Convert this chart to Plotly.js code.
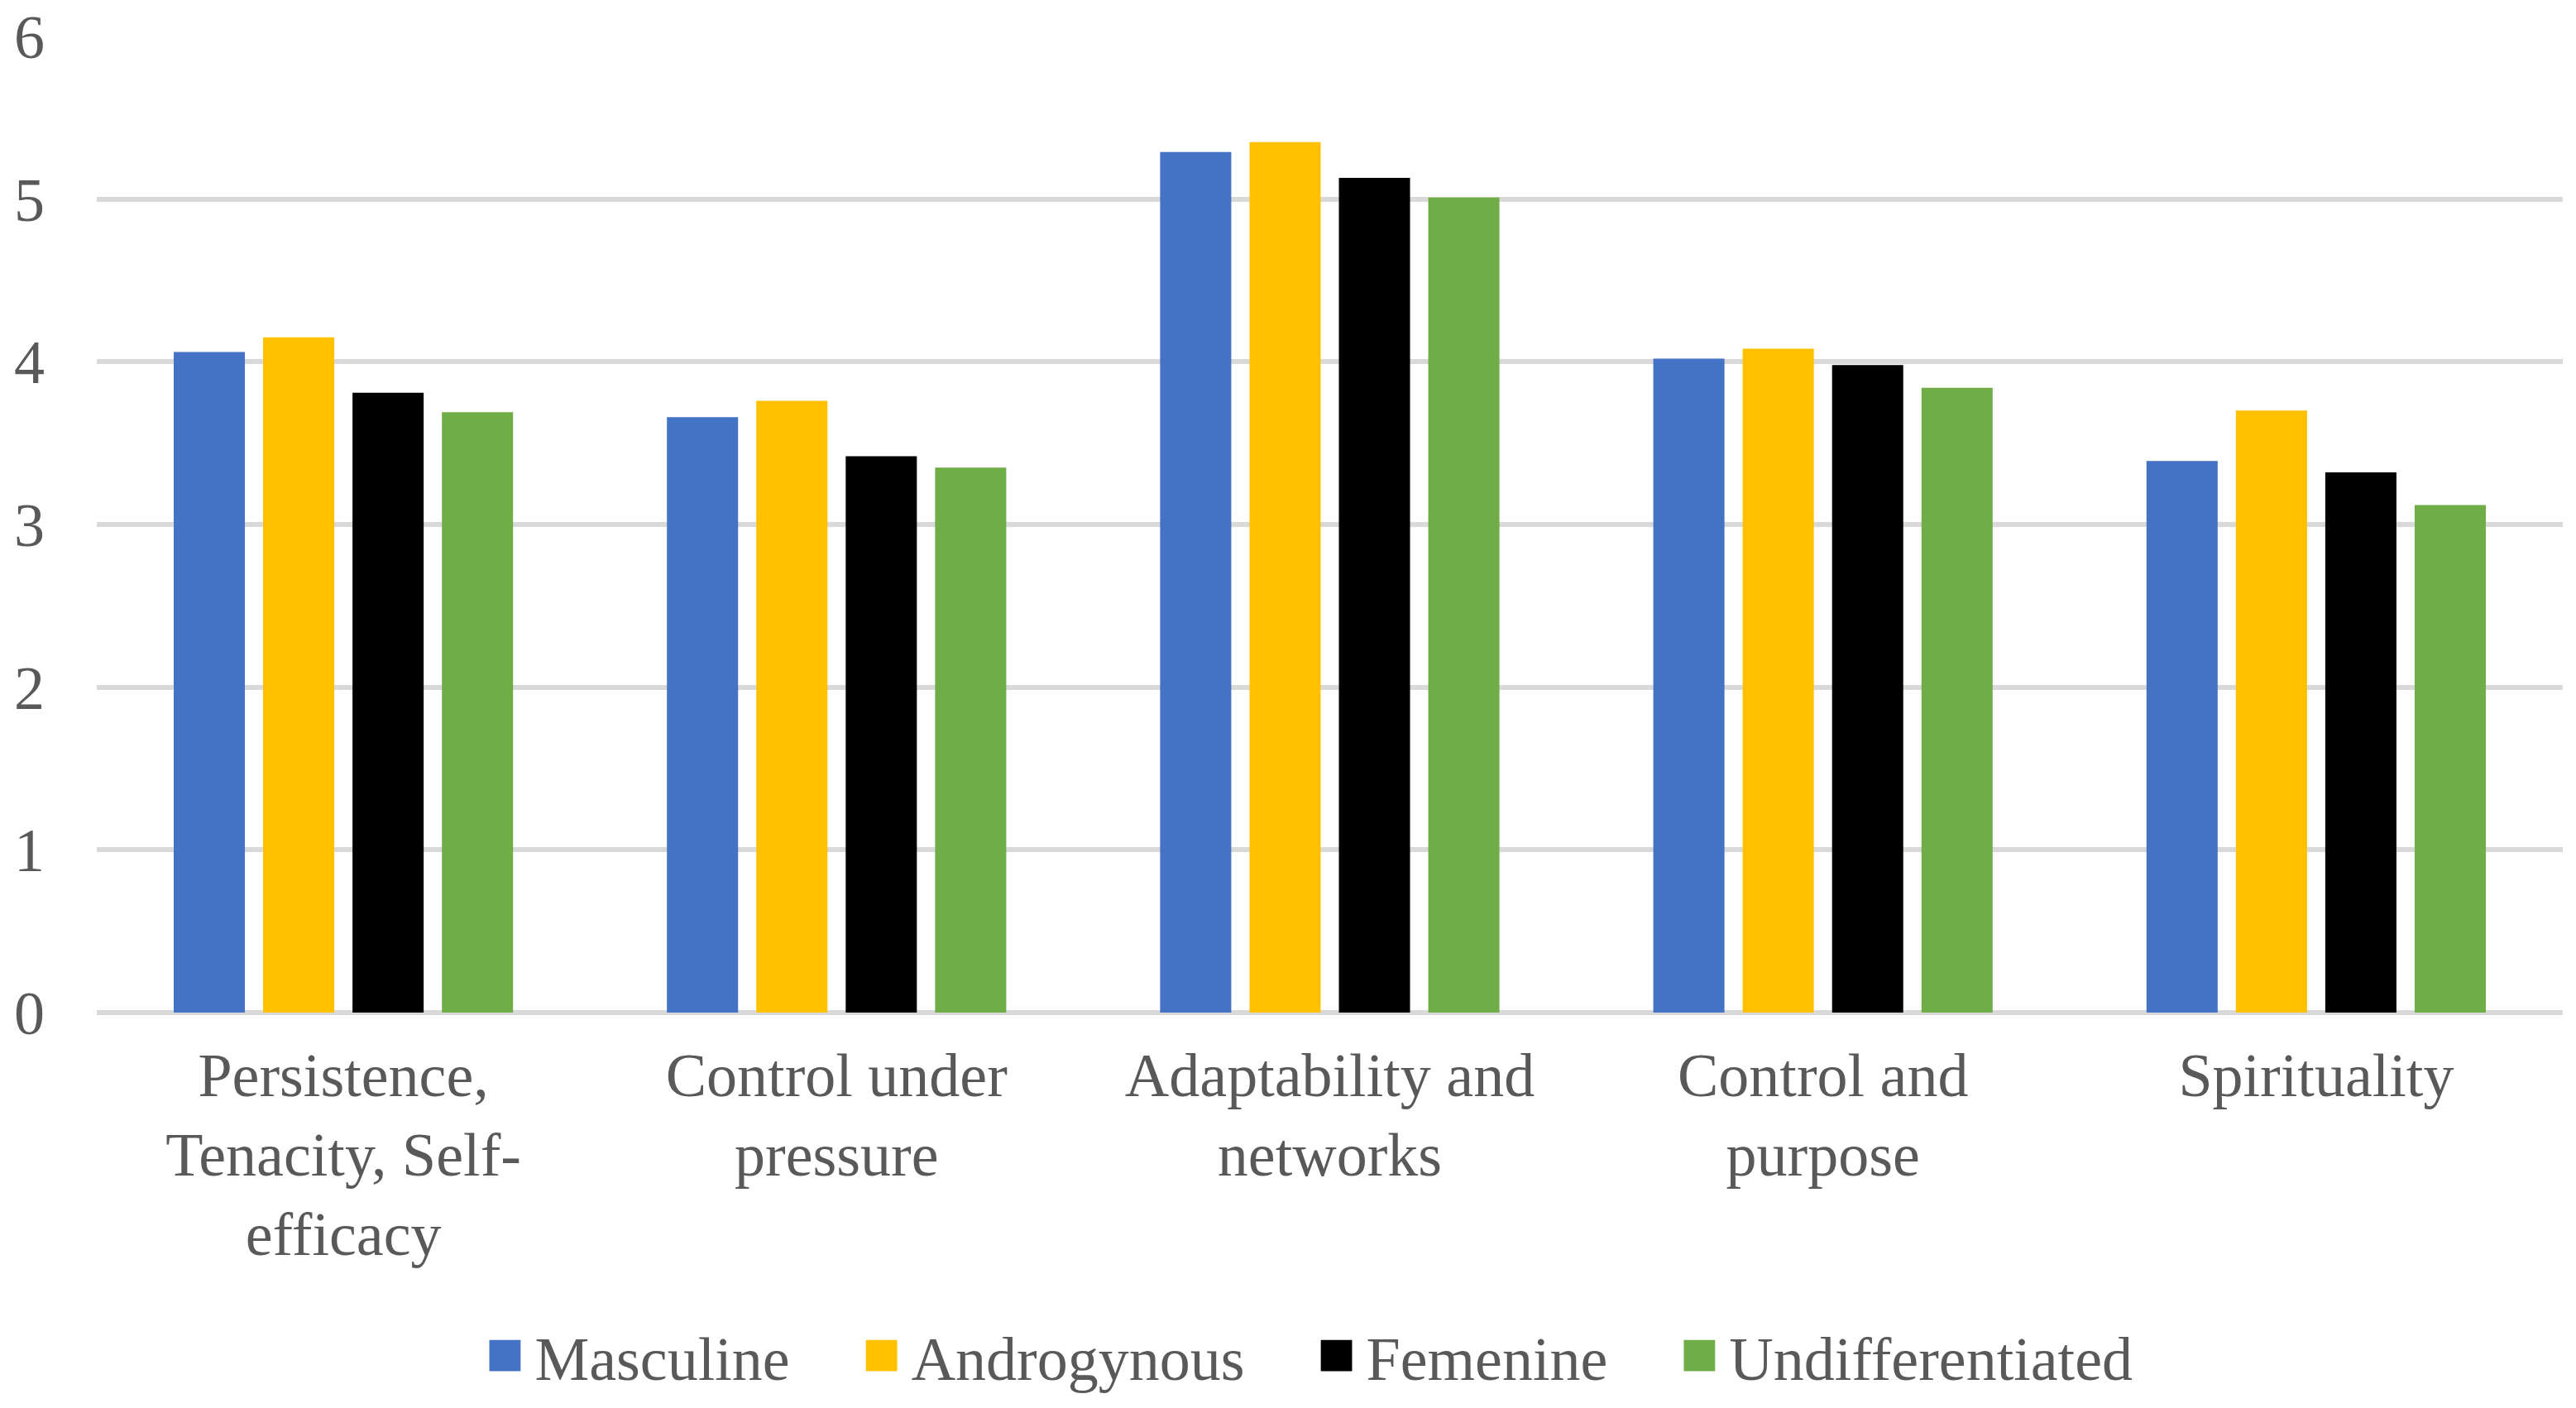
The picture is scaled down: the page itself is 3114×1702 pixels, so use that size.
<!DOCTYPE html>
<html>
<head>
<meta charset="utf-8">
<script src="https://cdn.plot.ly/plotly-3.0.1.min.js"></script>
<style>
html, body { margin: 0; padding: 0; background: #ffffff; }
#chart { width: 3114px; height: 1702px; }
</style>
</head>
<body>
<div id="chart"></div>
<script>
// Data
const categories = [
  "Persistence,<br>Tenacity, Self-<br>efficacy",
  "Control under<br>pressure",
  "Adaptability and<br>networks",
  "Control and<br>purpose",
  "Spirituality"
];
const seriesNames = ["Masculine", "Androgynous", "Femenine", "Undifferentiated"];
const masculine = [4.06, 3.66, 5.29, 4.02, 3.39];
const androgynous = [4.15, 3.76, 5.35, 4.08, 3.70];
const femenine = [3.81, 3.42, 5.13, 3.98, 3.32];
const undifferentiated = [3.69, 3.35, 5.01, 3.84, 3.12];
const yTickVals = [0, 1, 2, 3, 4, 5, 6];

const seriesValues = [masculine, androgynous, femenine, undifferentiated];
const colors = ["#4472C4", "#FFC000", "#000000", "#70AD47"];

const fontFamily = '"Liberation Serif", "Times New Roman", serif';
const textColor = "#595959";

const traces = seriesNames.map((name, i) => ({
  type: "bar",
  name: name,
  x: categories,
  y: seriesValues[i],
  marker: { color: colors[i], line: { width: 0 } },
  hoverinfo: "none"
}));

const layout = {
  width: 3114,
  height: 1702,
  margin: { l: 117, r: 16, t: 44, b: 478 },
  paper_bgcolor: "#ffffff",
  plot_bgcolor: "#ffffff",
  barmode: "group",
  bargap: 0.275,
  bargroupgap: 0.204,
  font: { family: fontFamily, size: 74, color: textColor },
  xaxis: {
    type: "category",
    showgrid: false,
    showline: false,
    zeroline: false,
    ticks: "",
    tickfont: { family: fontFamily, size: 74, color: textColor },
    ticklabelstandoff: 26
  },
  yaxis: {
    range: [0, 6],
    tickvals: yTickVals,
    ticktext: yTickVals.map(String),
    showgrid: true,
    gridcolor: "#D9D9D9",
    gridwidth: 6,
    zeroline: true,
    zerolinecolor: "#D9D9D9",
    zerolinewidth: 6,
    showline: false,
    ticks: "",
    tickfont: { family: fontFamily, size: 74, color: textColor },
    ticklabelstandoff: 62
  },
  showlegend: true,
  legend: {
    orientation: "h",
    xref: "container",
    yref: "container",
    x: 0.4958,
    xanchor: "center",
    y: 0.037,
    yanchor: "middle",
    font: { family: fontFamily, size: 74, color: textColor },
    itemwidth: 132,
    bgcolor: "rgba(0,0,0,0)"
  }
};

Plotly.newPlot("chart", traces, layout, { staticPlot: true, displayModeBar: false }).then(() => {
  document.querySelectorAll("#chart .legend g.traces").forEach(item => {
    const text = item.querySelector("text.legendtext");
    const pts = item.querySelector("g.legendpoints");
    if (!text || !pts) return;
    const tx = parseFloat(text.getAttribute("x")) || 0;
    pts.setAttribute("transform", "translate(" + (tx - 17 - 19) + ",0)");
    pts.querySelectorAll("path").forEach(p => p.setAttribute("transform", "scale(3.15)"));
  });
});
</script>
</body>
</html>
